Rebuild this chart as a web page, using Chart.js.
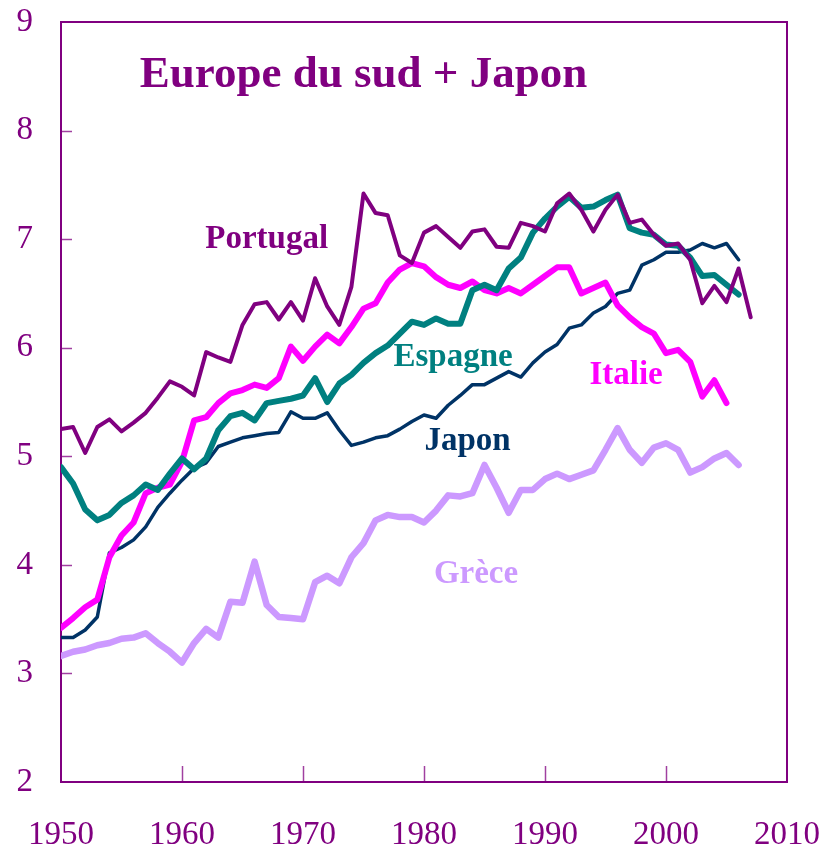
<!DOCTYPE html>
<html><head><meta charset="utf-8">
<script src="https://cdn.jsdelivr.net/npm/chart.js@4"></script>
<style>html,body{margin:0;padding:0;background:#fff;}</style>
</head><body>
<canvas id="c" width="827" height="851"></canvas>
<script>
const years = [1950,1951,1952,1953,1954,1955,1956,1957,1958,1959,
  1960,1961,1962,1963,1964,1965,1966,1967,1968,1969,
  1970,1971,1972,1973,1974,1975,1976,1977,1978,1979,
  1980,1981,1982,1983,1984,1985,1986,1987,1988,1989,
  1990,1991,1992,1993,1994,1995,1996,1997,1998,1999,
  2000,2001,2002,2003,2004,2005,2006,2007];

const portugal = [5.25,5.27,5.03,5.27,5.34,5.23,5.31,5.40,5.54,5.69,
  5.64,5.56,5.96,5.91,5.87,6.21,6.40,6.42,6.26,6.42,
  6.25,6.64,6.38,6.21,6.56,7.42,7.24,7.22,6.85,6.78,
  7.06,7.12,7.02,6.92,7.07,7.09,6.93,6.92,7.15,7.12,
  7.07,7.33,7.42,7.27,7.07,7.27,7.41,7.15,7.18,7.04,
  6.94,6.96,6.81,6.41,6.57,6.42,6.73,6.28];

const espagne = [4.90,4.75,4.51,4.41,4.46,4.57,4.64,4.74,4.69,4.84,
  4.98,4.88,4.98,5.24,5.37,5.40,5.33,5.49,5.51,5.53,
  5.56,5.72,5.50,5.67,5.75,5.86,5.95,6.02,6.13,6.24,
  6.21,6.27,6.22,6.22,6.53,6.58,6.53,6.73,6.83,7.06,
  7.19,7.30,7.39,7.29,7.30,7.36,7.41,7.10,7.06,7.04,
  6.95,6.94,6.83,6.66,6.67,6.58,6.49,null];

const italie = [3.42,3.51,3.61,3.68,4.07,4.27,4.39,4.66,4.71,4.74,
  4.95,5.33,5.36,5.49,5.58,5.61,5.66,5.63,5.72,6.01,
  5.88,6.01,6.12,6.04,6.19,6.36,6.41,6.60,6.72,6.78,
  6.75,6.65,6.58,6.55,6.61,6.53,6.50,6.55,6.50,6.58,
  6.66,6.74,6.74,6.50,6.55,6.60,6.39,6.28,6.19,6.13,
  5.95,5.98,5.87,5.55,5.70,5.49,null,null];

const japon = [3.33,3.33,3.40,3.52,4.11,4.16,4.23,4.35,4.53,4.66,
  4.78,4.89,4.94,5.09,5.13,5.17,5.19,5.21,5.22,5.41,
  5.35,5.35,5.40,5.24,5.10,5.13,5.17,5.19,5.25,5.32,
  5.38,5.35,5.47,5.56,5.66,5.66,5.72,5.78,5.73,5.86,
  5.96,6.03,6.18,6.21,6.32,6.38,6.50,6.53,6.76,6.81,
  6.88,6.88,6.90,6.96,6.92,6.96,6.81,null];

const grece = [3.16,3.20,3.22,3.26,3.28,3.32,3.33,3.37,3.28,3.20,
  3.10,3.28,3.41,3.33,3.66,3.65,4.03,3.63,3.52,3.51,
  3.50,3.84,3.90,3.83,4.07,4.20,4.41,4.46,4.44,4.44,
  4.39,4.50,4.64,4.63,4.66,4.92,4.71,4.48,4.69,4.69,
  4.79,4.84,4.79,4.83,4.87,5.06,5.26,5.06,4.94,5.08,
  5.12,5.06,4.85,4.90,4.98,5.03,4.92,null];

const seriesNames = ['Portugal','Espagne','Italie','Japon','Grèce'];
const title = 'Europe du sud + Japon';
const xTicks = [1950,1960,1970,1980,1990,2000,2010];
const yTicks = [2,3,4,5,6,7,8,9];

const PURPLE = '#800080';
const colors = ['#800080','#008080','#FF00FF','#003366','#CC99FF'];
const widths = [4,6,6,3.5,6.5];

function pts(vals){
  const out=[];
  vals.forEach((v,i)=>{ if(v!==null) out.push({x:years[i], y:v}); });
  return out;
}
const allSeries=[portugal,espagne,italie,japon,grece];

// label anchors (data coords: year, value at baseline)
const labelAnchors = [
  {text:seriesNames[0], x:1967.0, y:6.92, color:colors[0], size:33},
  {text:seriesNames[1], x:1982.4, y:5.83, color:colors[1], size:33},
  {text:seriesNames[2], x:1996.7, y:5.67, color:colors[2], size:33},
  {text:seriesNames[3], x:1983.6, y:5.06, color:colors[3], size:33},
  {text:seriesNames[4], x:1984.3, y:3.83, color:colors[4], size:33},
  {text:title, x:1975.0, y:8.40, color:PURPLE, size:45}
];

const decor = {
  id:'decor',
  beforeDatasetsDraw(chart){
    const {ctx, chartArea:a, scales:{x,y}} = chart;
    ctx.save();
    ctx.strokeStyle = '#a040a0';
    ctx.lineWidth = 1.5;
    yTicks.forEach(v=>{
      if(v===2||v===9) return;
      const py = Math.round(y.getPixelForValue(v))+0.5;
      ctx.beginPath(); ctx.moveTo(a.left, py); ctx.lineTo(a.left+11, py); ctx.stroke();
    });
    xTicks.forEach(v=>{
      if(v===1950||v===2010) return;
      const px = Math.round(x.getPixelForValue(v))+0.5;
      ctx.beginPath(); ctx.moveTo(px, a.bottom); ctx.lineTo(px, a.bottom-16); ctx.stroke();
    });
    ctx.strokeStyle = PURPLE;
    ctx.lineWidth = 2;
    ctx.strokeRect(a.left, a.top, a.right-a.left, a.bottom-a.top);
    ctx.restore();
  },
  afterDatasetsDraw(chart){
    const {ctx, scales:{x,y}} = chart;
    ctx.save();
    ctx.textAlign='center';
    ctx.textBaseline='alphabetic';
    labelAnchors.forEach(l=>{
      ctx.fillStyle=l.color;
      ctx.font='bold '+l.size+'px "Liberation Serif", "Times New Roman", serif';
      ctx.fillText(l.text, x.getPixelForValue(l.x), y.getPixelForValue(l.y));
    });
    ctx.restore();
  }
};

new Chart(document.getElementById('c'), {
  type:'line',
  data:{
    datasets: allSeries.map((s,i)=>({
      label: seriesNames[i],
      data: pts(s),
      borderColor: colors[i],
      backgroundColor: colors[i],
      borderWidth: widths[i],
      pointRadius: 0,
      tension: 0,
      fill: false,
      borderCapStyle: 'round',
      borderJoinStyle: 'round'
    }))
  },
  options:{
    responsive:false,
    animation:false,
    devicePixelRatio:1,
    layout:{padding:{top:22,right:40,left:0,bottom:0}},
    plugins:{legend:{display:false}, tooltip:{enabled:false}, title:{display:false}},
    scales:{
      x:{
        type:'linear', min:1950, max:2010,
        grid:{display:false, drawTicks:false},
        border:{display:false},
        afterBuildTicks(scale){ scale.ticks = xTicks.map(v=>({value:v})); },
        ticks:{color:PURPLE, padding:34, maxRotation:0, autoSkip:false,
          font:{family:'"Liberation Serif", serif', size:33},
          callback:(v)=>String(v)},
        afterFit(scale){ scale.height = 69; scale.paddingLeft=0; scale.paddingRight=0; }
      },
      y:{
        type:'linear', min:2, max:9,
        grid:{display:false, drawTicks:false},
        border:{display:false},
        afterBuildTicks(scale){ scale.ticks = yTicks.map(v=>({value:v})); },
        ticks:{color:PURPLE, padding:28,
          font:{family:'"Liberation Serif", serif', size:33},
          callback:(v)=>String(v)},
        afterFit(scale){ scale.width = 61; scale.paddingTop=0; scale.paddingBottom=0; }
      }
    }
  },
  plugins:[decor]
});
</script>
</body></html>
